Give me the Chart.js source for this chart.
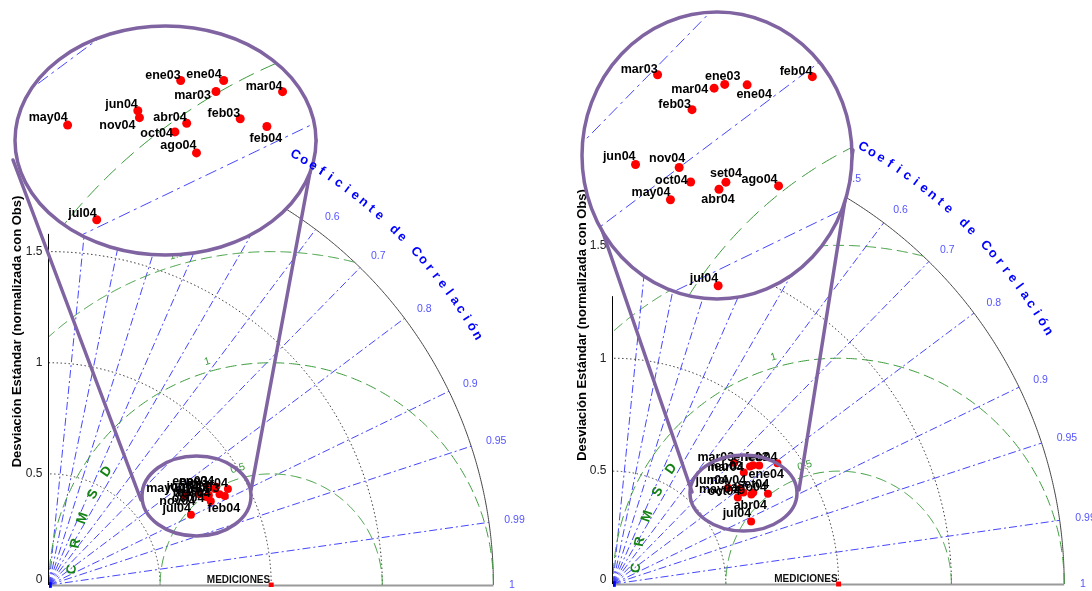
<!DOCTYPE html>
<html lang="es">
<head>
<meta charset="utf-8">
<title>Diagramas de Taylor</title>
<script src="https://cdn.jsdelivr.net/npm/chart.js@4.4.1/dist/chart.umd.min.js"></script>
<style>
  html, body { margin: 0; padding: 0; background: #fff; }
  #lienzo { position: relative; width: 1092px; height: 591px; overflow: hidden; background: #fff; }
  #lienzo canvas { position: absolute; }
</style>
</head>
<body>
<div id="lienzo">
  <canvas id="principalA" width="546" height="591" style="left:0;top:0"></canvas>
  <canvas id="principalB" width="546" height="591" style="left:546px;top:0"></canvas>
  <canvas id="lupaA"></canvas>
  <canvas id="lupaB"></canvas>
</div>
<script>
const FUENTE = '"Liberation Sans", Arial, Helvetica, sans-serif';

// Estadísticos normalizados por mes: desviación estándar y coeficiente de correlación
const mesesA = ['ene03','feb03','mar03','ene04','feb04','mar04','abr04','may04','jun04','jul04','ago04','oct04','nov04'];
const desvA  = [0.840, 0.869, 0.862, 0.873, 0.887, 0.914, 0.825, 0.733, 0.793, 0.713, 0.820, 0.812, 0.791];
const corrA  = [0.850, 0.883, 0.865, 0.862, 0.892, 0.881, 0.872, 0.836, 0.852, 0.896, 0.888, 0.873, 0.856];

const mesesB = ['ene03','feb03','mar03','ene04','feb04','mar04','abr04','may04','jun04','jul04','ago04','set04','oct04','nov04'];
const desvB  = [0.813, 0.762, 0.760, 0.834, 0.904, 0.800, 0.730, 0.673, 0.665, 0.672, 0.795, 0.742, 0.706, 0.705];
const corrB  = [0.763, 0.761, 0.707, 0.777, 0.806, 0.759, 0.840, 0.822, 0.767, 0.911, 0.864, 0.838, 0.819, 0.800];

// Ejes y contornos del diagrama
const ticksDesv = [0, 0.5, 1, 1.5];
const arcosDesv = [0.5, 1, 1.5];
const ticksCorr = [0.1, 0.2, 0.3, 0.4, 0.5, 0.6, 0.7, 0.8, 0.9, 0.95, 0.99, 1];
const ticksRMSD = [0.5, 1, 1.5];
const desvMax = 2;
const referencia = { desv: 1, corr: 1 };   // MEDICIONES

const tituloY = 'Desviación Estándar (normalizada con Obs)';
const tituloCorr = 'Coeficiente de Correlación';
const tituloRMSD = 'CRMSD';

const ESTILO = {
  correl: { color: 'rgba(50,50,255,0.9)', ancho: 1, guion: [8, 3, 2, 3] },
  desv:   { color: '#333333', ancho: 1, guion: [1.5, 2.5] },
  borde:  { color: '#444444', ancho: 1, guion: [] },
  rmsd:   { color: '#3a9a3a', ancho: 1, guion: [11, 5] },
  lupa:   '#8064a2'
};

// Disposición de cada panel (coordenadas de página para lupa, foco y guías)
const panelA = {
  principal: 'principalA', lupa: 'lupaA', offsetX: 0,
  meses: mesesA, desv: desvA, corr: corrA,
  padIzq: 6, padSup: 76, anchoEje: 43,
  xMax: 2.21875, yMin: -0.00893, yMax: 2.29018, topeEjeY: 1.58,
  vista: { rect: [10, 22, 312, 238], x: [0.565217, 0.836522], y: [0.284348, 0.491304] },
  elipse: { cx: 165.5, cy: 140.5, rx: 150.5, ry: 114.5 },
  foco: { cx: 196.5, cy: 496, rx: 54.5, ry: 40 },
  guias: [[13, 160, 141, 500], [316, 140, 251, 490]],
  rotulos: {
    ene03: ['right', 0, -2], ene04: ['right', -2, -2], mar03: ['right', -5, 7],
    mar04: ['right', 0, -2], jun04: ['right', 0, -3], nov04: ['right', -4, 11],
    may04: ['right', 0, -4], abr04: ['right', 0, -2], oct04: ['right', -2, 5],
    feb03: ['right', 0, -2], feb04: ['center', -1, 16], ago04: ['right', 0, -4],
    jul04: ['right', 0, -3]
  }
};
const panelB = {
  principal: 'principalB', lupa: 'lupaB', offsetX: 546,
  meses: mesesB, desv: desvB, corr: corrB,
  padIzq: 25, padSup: 63, anchoEje: 42,
  xMax: 2.10549, yMin: -0.01319, yMax: 2.30770, topeEjeY: 1.275,
  vista: { rect: [578, 8, 278, 295], x: [0.444498, 0.777033], y: [0.261364, 0.614234] },
  elipse: { cx: 717, cy: 155.5, rx: 135, ry: 143.5 },
  foco: { cx: 743.5, cy: 493, rx: 53.5, ry: 38 },
  guias: [[590, 195, 692, 492], [853, 150, 799, 490]],
  rotulos: {
    mar03: ['right', 0, -2], ene03: ['center', -2, -4], mar04: ['right', -6, 5],
    ene04: ['center', 7, 13], feb04: ['right', 0, -2], feb03: ['right', -1, -2],
    jun04: ['right', 0, -4], nov04: ['right', 6, -5], oct04: ['right', -3, 2],
    set04: ['center', 0, -5], abr04: ['center', -1, 14], may04: ['right', 0, -4],
    ago04: ['right', -1, -3], jul04: ['right', 0, -4]
  }
};

// ---------- utilidades ----------
function cartesianas(desv, corr) {
  return desv.map((s, i) => ({ x: s * corr[i], y: s * Math.sqrt(1 - corr[i] * corr[i]) }));
}
function polar(r, c) { return [r * c, r * Math.sqrt(Math.max(0, 1 - c * c))]; }
function aPx(chart) {
  const sx = chart.scales.x, sy = chart.scales.y;
  return (x, y) => [sx.getPixelForValue(x), sy.getPixelForValue(y)];
}
function trazo(ctx, pts, e, k) {
  ctx.save();
  ctx.beginPath();
  pts.forEach((p, i) => i ? ctx.lineTo(p[0], p[1]) : ctx.moveTo(p[0], p[1]));
  ctx.strokeStyle = e.color;
  ctx.lineWidth = e.ancho;
  ctx.setLineDash(e.guion.map(v => v * (k || 1)));
  ctx.stroke();
  ctx.restore();
}
function arco(px, cx, cy, r, a0, a1, n) {
  n = n || 360;
  const pts = [];
  for (let i = 0; i <= n; i++) {
    const a = a0 + (a1 - a0) * i / n;
    pts.push(px(cx + r * Math.cos(a), cy + r * Math.sin(a)));
  }
  return pts;
}
function texto(ctx, s, x, y, font, color, align, base, rot) {
  ctx.save();
  ctx.translate(x, y);
  if (rot) ctx.rotate(rot);
  ctx.font = font;
  ctx.fillStyle = color;
  ctx.textAlign = align || 'center';
  ctx.textBaseline = base || 'middle';
  ctx.fillText(s, 0, 0);
  ctx.restore();
}

// Rejilla polar: radios de correlación, arcos de desviación y contornos de CRMSD
function rejilla(ctx, px, k) {
  const ref = polar(referencia.desv, referencia.corr);
  ticksCorr.filter(c => c < 1).forEach(c => {
    const [x, y] = polar(desvMax, c);
    trazo(ctx, [px(0, 0), px(x, y)], ESTILO.correl, k);
  });
  arcosDesv.forEach(r => trazo(ctx, arco(px, 0, 0, r, 0, Math.PI / 2), ESTILO.desv, k));
  trazo(ctx, arco(px, 0, 0, desvMax, 0, Math.PI / 2), ESTILO.borde, k);
  ticksRMSD.forEach(R => {
    const t0 = Math.acos(Math.min(1, (desvMax * desvMax - ref[0] * ref[0] - R * R) / (2 * R * ref[0])));
    const t1 = Math.acos(Math.max(-1, -ref[0] / R));
    trazo(ctx, arco(px, ref[0], 0, R, t0, t1), ESTILO.rmsd, k);
  });
}

function letrasCorr(ctx, px) {
  [...tituloCorr].forEach((ch, i) => {
    const a = (60.2 - 1.2 * i) * Math.PI / 180;
    const [u, v] = px(2.23 * Math.cos(a), 2.23 * Math.sin(a));
    texto(ctx, ch, u, v, 'bold 13px ' + FUENTE, '#0000ff', 'center', 'middle', Math.PI / 2 - a);
  });
}

function rotularPuntos(chart, p) {
  const ctx = chart.ctx;
  const meta = chart.getDatasetMeta(0);
  meta.data.forEach((el, i) => {
    const nombre = p.meses[i];
    const [al, dx, dy] = p.rotulos[nombre] || ['right', 0, -3];
    texto(ctx, nombre, el.x + dx, el.y + dy, 'bold 12.5px ' + FUENTE, '#000', al, 'alphabetic');
  });
}

function elipse(ctx, cx, cy, rx, ry) {
  ctx.beginPath();
  ctx.ellipse(cx, cy, rx, ry, 0, 0, 2 * Math.PI);
}

// ---------- diagrama principal ----------
function pluginPrincipal(p) {
  return {
    id: 'taylorPrincipal',
    beforeDatasetsDraw(chart) {
      const ctx = chart.ctx, px = aPx(chart);
      rejilla(ctx, px, 1);
      const [ox, oy] = px(0, 0);
      const [, ty] = px(0, p.topeEjeY);
      const [ex] = px(desvMax, 0);
      ctx.save();
      ctx.strokeStyle = '#9a9a9a'; ctx.lineWidth = 2;
      ctx.beginPath(); ctx.moveTo(ox, oy + 0.5); ctx.lineTo(ex, oy + 0.5); ctx.stroke();
      ctx.strokeStyle = '#000'; ctx.lineWidth = 1;
      ctx.beginPath(); ctx.moveTo(ox - 0.5, oy); ctx.lineTo(ox - 0.5, ty); ctx.stroke();
      ctx.restore();
    },
    afterDatasetsDraw(chart) {
      const ctx = chart.ctx, px = aPx(chart), ca = chart.chartArea;
      ticksDesv.forEach(v => {
        const [, y] = px(0, v);
        texto(ctx, String(v), ca.left - 6.5, Math.min(y, ca.bottom - 7), '12px ' + FUENTE, '#222', 'right', 'middle');
      });
      ticksCorr.forEach(c => {
        const [x, y] = polar(2.07, c);
        const [u, v] = px(x, y);
        texto(ctx, String(c), u, v, '10.5px ' + FUENTE, 'rgb(85,85,255)', 'left', 'middle');
      });
      ticksRMSD.forEach(R => {
        const a = 106 * Math.PI / 180, d = R + 0.045;
        const [u, v] = px(referencia.desv + d * Math.cos(a), d * Math.sin(a));
        texto(ctx, String(R), u, v, '10.5px ' + FUENTE, '#3a9a3a', 'center', 'middle', -(a - Math.PI / 2));
      });
      [...tituloRMSD].forEach((ch, i) => {
        const a = (175.5 - 7.5 * i) * Math.PI / 180;
        const [u, v] = px(referencia.desv + 0.9 * Math.cos(a), 0.9 * Math.sin(a));
        texto(ctx, ch, u, v, 'bold 13.5px ' + FUENTE, '#148214', 'center', 'middle', -(a - Math.PI / 2));
      });
      letrasCorr(ctx, px);
      const [mx, my] = px(referencia.desv, 0);
      texto(ctx, 'MEDICIONES', mx - 1, my - 2.5, 'bold 10px ' + FUENTE, '#111', 'right', 'alphabetic');
      rotularPuntos(chart, p);
    },
    afterDraw(chart) {
      const ctx = chart.ctx, f = p.foco;
      ctx.save();
      ctx.strokeStyle = ESTILO.lupa; ctx.lineWidth = 3.5; ctx.lineCap = 'round';
      p.guias.forEach(([x1, y1, x2, y2]) => {
        ctx.beginPath(); ctx.moveTo(x1 - p.offsetX, y1); ctx.lineTo(x2 - p.offsetX, y2); ctx.stroke();
      });
      elipse(ctx, f.cx - p.offsetX, f.cy, f.rx, f.ry);
      ctx.stroke();
      ctx.restore();
    }
  };
}

function crearPrincipal(p) {
  const ref = polar(referencia.desv, referencia.corr);
  return new Chart(document.getElementById(p.principal), {
    type: 'scatter',
    data: {
      datasets: [
        { label: 'meses', data: cartesianas(p.desv, p.corr), pointStyle: 'circle', pointRadius: 4,
          pointBackgroundColor: '#ff0000', pointBorderWidth: 0 },
        { label: 'MEDICIONES', data: [{ x: ref[0], y: ref[1] }], pointStyle: 'rect', pointRadius: 3.5,
          pointBackgroundColor: '#ff0000', pointBorderWidth: 0 },
        { label: 'origen', data: [{ x: 0, y: 0 }], pointStyle: 'rect', pointRadius: 4,
          pointBackgroundColor: '#0000ff', pointBorderWidth: 0,
          clip: { left: 0, top: false, right: false, bottom: false } }
      ]
    },
    options: {
      animation: false, responsive: false, devicePixelRatio: 1, events: [],
      layout: { padding: { left: p.padIzq, top: p.padSup, right: 0, bottom: 0 } },
      plugins: { legend: { display: false }, tooltip: { enabled: false } },
      scales: {
        x: { type: 'linear', display: false, min: 0, max: p.xMax },
        y: {
          type: 'linear', min: p.yMin, max: p.yMax,
          grid: { display: false, drawTicks: false }, border: { display: false },
          ticks: { display: false },
          title: { display: true, text: tituloY, color: '#000',
                   font: { family: FUENTE, size: 13, weight: 'bold' }, padding: { top: 4, bottom: 4 } },
          afterFit(s) { s.width = p.anchoEje; }
        }
      }
    },
    plugins: [pluginPrincipal(p)]
  });
}

// ---------- lupa ampliada ----------
function crearLupa(p, principal) {
  const c = document.getElementById(p.lupa);
  const [l, t, w, h] = p.vista.rect;
  c.width = w; c.height = h;
  c.style.left = l + 'px'; c.style.top = t + 'px';
  const e = { cx: p.elipse.cx - l, cy: p.elipse.cy - t, rx: p.elipse.rx, ry: p.elipse.ry };
  const pxPrincipal = (x, y) => {
    const [a, b] = aPx(principal)(x, y);
    return [a + p.offsetX - l, b - t];
  };
  return new Chart(c, {
    type: 'scatter',
    data: {
      datasets: [
        { label: 'meses', data: cartesianas(p.desv, p.corr), pointStyle: 'circle', pointRadius: 4.5,
          pointBackgroundColor: '#ff0000', pointBorderWidth: 0 }
      ]
    },
    options: {
      animation: false, responsive: false, devicePixelRatio: 1, events: [],
      layout: { padding: 0 },
      plugins: { legend: { display: false }, tooltip: { enabled: false } },
      scales: {
        x: { type: 'linear', display: false, min: p.vista.x[0], max: p.vista.x[1] },
        y: { type: 'linear', display: false, min: p.vista.y[0], max: p.vista.y[1] }
      }
    },
    plugins: [{
      id: 'taylorLupa',
      beforeDraw(chart) {
        const ctx = chart.ctx;
        ctx.save(); elipse(ctx, e.cx, e.cy, e.rx, e.ry); ctx.fillStyle = '#fff'; ctx.fill(); ctx.restore();
      },
      beforeDatasetsDraw(chart) {
        const ctx = chart.ctx;
        ctx.save(); elipse(ctx, e.cx, e.cy, e.rx, e.ry); ctx.clip();
        rejilla(ctx, aPx(chart), 1.5);
        ctx.restore();
      },
      afterDatasetsDraw(chart) { rotularPuntos(chart, p); },
      afterDraw(chart) {
        const ctx = chart.ctx;
        ctx.save(); elipse(ctx, e.cx, e.cy, e.rx, e.ry);
        ctx.strokeStyle = ESTILO.lupa; ctx.lineWidth = 3.5; ctx.stroke(); ctx.restore();
        letrasCorr(ctx, pxPrincipal);
      }
    }]
  });
}

[panelA, panelB].forEach(p => {
  const principal = crearPrincipal(p);
  crearLupa(p, principal);
});
</script>
</body>
</html>
